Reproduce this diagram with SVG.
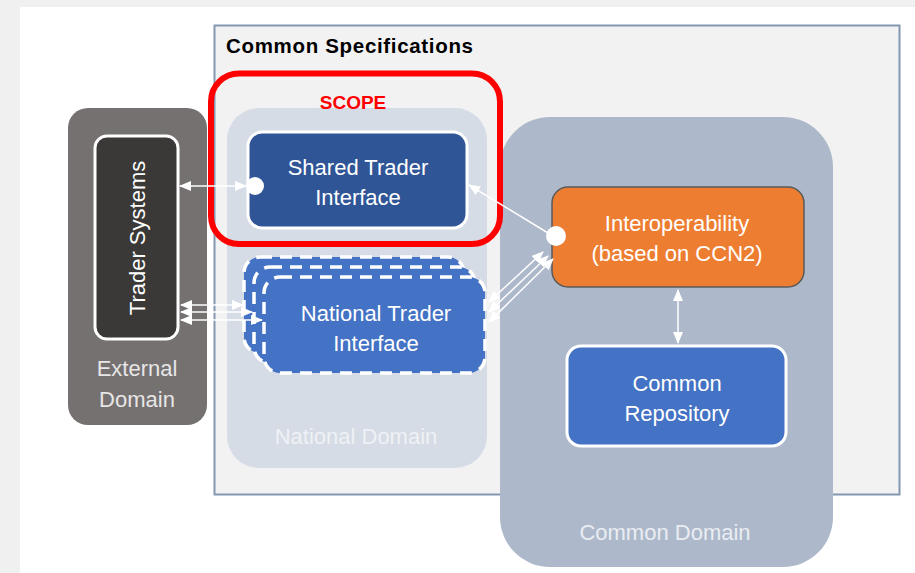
<svg xmlns="http://www.w3.org/2000/svg" width="915" height="573" viewBox="0 0 915 573">
<defs>
<style>
text{font-family:"Liberation Sans",Arial,sans-serif;text-anchor:middle}
.lbl{fill:#ffffff;font-size:22px}
.dom{font-size:22px}
.con{stroke:#ffffff;stroke-width:1.5;fill:none;marker-start:url(#ah);marker-end:url(#ah)}
.ntf{fill:#4472c4;stroke:#ffffff;stroke-width:3.5;stroke-dasharray:12 8}
</style>
<marker id="ah" markerUnits="userSpaceOnUse" markerWidth="12" markerHeight="10" refX="11" refY="5" orient="auto-start-reverse">
<path d="M0,0 L12,5 L0,10 z" fill="#ffffff"/>
</marker>
</defs>
<rect x="0" y="0" width="915" height="573" fill="#f0f0f0"/>
<rect x="20" y="7" width="895" height="566" fill="#ffffff"/>

<g id="common-specifications">
<rect x="214.5" y="25.5" width="685" height="469" fill="#f2f2f2" stroke="#8497b0" stroke-width="2"/>
<text x="226" y="53" style="text-anchor:start;font-weight:bold;font-size:20.5px" fill="#000000" textLength="247">Common Specifications</text>
</g>

<g id="external-domain">
<rect x="68" y="108" width="139" height="317" rx="20" fill="#767171"/>
<text class="dom" x="137" y="376" fill="#e7e6e6">External</text>
<text class="dom" x="137" y="407" fill="#e7e6e6">Domain</text>
</g>

<g id="national-domain">
<rect x="227" y="108" width="260" height="360" rx="32" fill="#d6dce5"/>
<text class="dom" x="356" y="444" fill="#eef1f5">National Domain</text>
</g>

<g id="common-domain">
<rect x="500" y="117" width="333" height="450" rx="50" fill="#adb9ca"/>
<text class="dom" x="665" y="540" fill="#e9edf3">Common Domain</text>
</g>

<g id="trader-systems">
<rect x="95" y="136" width="83" height="203" rx="12" fill="#3b3838" stroke="#ffffff" stroke-width="3"/>
<text class="lbl" transform="translate(145,238) rotate(-90)">Trader Systems</text>
</g>

<g id="shared-trader-interface">
<rect x="248" y="132" width="219" height="96" rx="14" fill="#2f5597" stroke="#ffffff" stroke-width="3"/>
<text class="lbl" x="358" y="175">Shared Trader</text>
<text class="lbl" x="358" y="205">Interface</text>
</g>

<g id="national-trader-interface">
<rect class="ntf" x="244" y="257" width="220" height="96" rx="16"/>
<rect class="ntf" x="254" y="267" width="221" height="96" rx="16"/>
<rect class="ntf" x="264" y="277" width="221" height="96" rx="16"/>
<text class="lbl" x="376" y="321">National Trader</text>
<text class="lbl" x="376" y="351">Interface</text>
</g>

<g id="scope">
<rect x="211" y="73.5" width="289" height="170.5" rx="28" fill="none" stroke="#ff0000" stroke-width="6"/>
<text x="353" y="109" fill="#ff0000" style="font-weight:bold;font-size:19px">SCOPE</text>
</g>

<g id="interoperability">
<rect x="552" y="187" width="252" height="100" rx="16" fill="#ed7d31" stroke="#595959" stroke-width="1.5"/>
<text class="lbl" x="677" y="231">Interoperability</text>
<text class="lbl" x="677" y="261">(based on CCN2)</text>
</g>

<g id="common-repository">
<rect x="567" y="346" width="219" height="100" rx="14" fill="#4472c4" stroke="#ffffff" stroke-width="3"/>
<text class="lbl" x="677" y="391">Common</text>
<text class="lbl" x="677" y="421">Repository</text>
</g>

<g id="connectors">
<line class="con" x1="180" y1="186" x2="246" y2="186"/>
<circle cx="255" cy="186" r="9" fill="#ffffff"/>
<line class="con" x1="181" y1="305" x2="243" y2="305"/>
<line class="con" x1="181" y1="312" x2="252" y2="312"/>
<line class="con" x1="181" y1="320" x2="262" y2="320"/>
<line class="con" style="marker-end:none" x1="469" y1="185" x2="548" y2="233"/>
<circle cx="556" cy="236" r="10" fill="#ffffff"/>
<line class="con" x1="489" y1="302" x2="543" y2="252"/>
<line class="con" x1="489" y1="312" x2="548" y2="256"/>
<line class="con" x1="489" y1="322" x2="553" y2="259"/>
<line class="con" x1="678" y1="290" x2="678" y2="343"/>
</g>
</svg>
